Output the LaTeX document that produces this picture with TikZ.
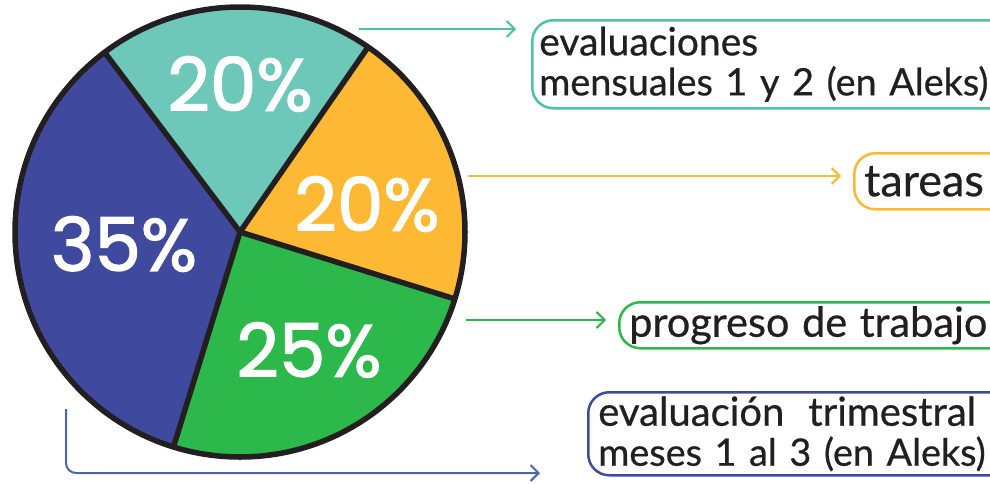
\documentclass[tikz,border=0pt]{standalone}
\usepackage{fontspec}
\setmainfont{Lato}
\newfontfamily\pctfont[FakeBold=1.8]{Poppins}
\newfontfamily\labfont[FakeBold=0.6]{Lato}
\usetikzlibrary{arrows.meta,calc}
\definecolor{cteal}{HTML}{6EC8B9}
\definecolor{corange}{HTML}{FDB933}
\definecolor{cgreen}{HTML}{2DB84B}
\definecolor{cblue}{HTML}{3F4A9E}
\definecolor{lteal}{HTML}{4EC3A0}
\definecolor{lblue}{HTML}{4A66A8}
\definecolor{ink}{HTML}{231F20}
\newcommand{\fs}[1]{\fontsize{#1}{40}\selectfont}
\tikzset{
  slice/.style={draw=ink,line width=5.5pt,line join=round},
  pct/.style={text=white,font=\pctfont\fontsize{74}{74}\selectfont,inner sep=0pt},
  lab/.style={draw=#1,line width=2.5pt,rounded corners=21pt,text=ink,align=left,anchor=north west,inner xsep=7pt,inner ysep=0pt,
     font=\labfont\fontsize{37.8}{40}\selectfont},
  conn/.style={draw=#1,line width=2pt,-{Straight Barb[length=8pt,width=16pt,line width=2pt]}},
}
\begin{document}
\begin{tikzpicture}[x=1pt,y=-1pt]
\useasboundingbox (0,0) rectangle (990,483);
\clip (0,0) rectangle (990,483);
\coordinate (o) at (240,232);
\def\R{225}
\coordinate (tl) at ($(o)+(-127:\R)$);
\coordinate (tr) at ($(o)+(-55.3:\R)$);
\coordinate (rr) at ($(o)+(17.3:\R)$);
\coordinate (bb) at ($(o)+(107.2:\R)$);
\fill[cteal] (o) -- (tl) arc[start angle=-127,end angle=-55.3,radius=\R] -- cycle;
\fill[corange] (o) -- (tr) arc[start angle=-55.3,end angle=17.3,radius=\R] -- cycle;
\fill[cgreen] (o) -- (rr) arc[start angle=17.3,end angle=107.2,radius=\R] -- cycle;
\fill[cblue] (o) -- (bb) arc[start angle=107.2,end angle=233,radius=\R] -- cycle;
\draw[slice] (o) circle[radius=\R];
\draw[slice] (tl) -- (o) -- (tr) (o) -- (rr) (o) -- (bb);
\node[pct] (p1) at (240,84) {20\%};
\node[pct] (p2) at (367,204) {20\%};
\node[pct] (p3) at (309,350) {25\%};
\node[pct] (p4) at (124,244) {35\%};
\node[lab=lteal,text width=470pt,minimum height=88pt] (b1) at (531,19) {\fs{39}evaluaciones\\\fs{37.8}mensuales 1 y 2 (en Aleks)};
\node[lab=corange,text width=150pt,minimum height=56pt] (b2) at (853,152) {\fs{45}\hspace{3pt}tareas};
\node[lab=cgreen,text width=390pt,minimum height=46pt] (b3) at (618,301) {\fs{41.5}\hspace{3pt}progreso de trabajo};
\node[lab=cblue,text width=430pt,minimum height=83pt] (b4) at (587,391) {\hspace{3pt}\fs{40}evaluación\hspace{24pt}trimestral\\\hspace{3pt}\fs{37.8}meses 1 al 3 (en Aleks)};
\coordinate (s1) at (359,29);
\coordinate (s2) at (468,176);
\coordinate (s3) at (466,320);
\coordinate (s4) at (66,409);
\coordinate (e4) at (540,473);
\draw[conn=lteal,shorten >=15pt] (s1) -- (s1 -| b1.west);
\draw[conn=corange,shorten >=12pt] (s2) -- (s2 -| b2.west);
\draw[conn=cgreen,shorten >=12pt] (s3) -- (s3 -| b3.west);
\draw[conn=lblue,rounded corners=10pt] (s4) |- (e4);
\end{tikzpicture}
\end{document}
